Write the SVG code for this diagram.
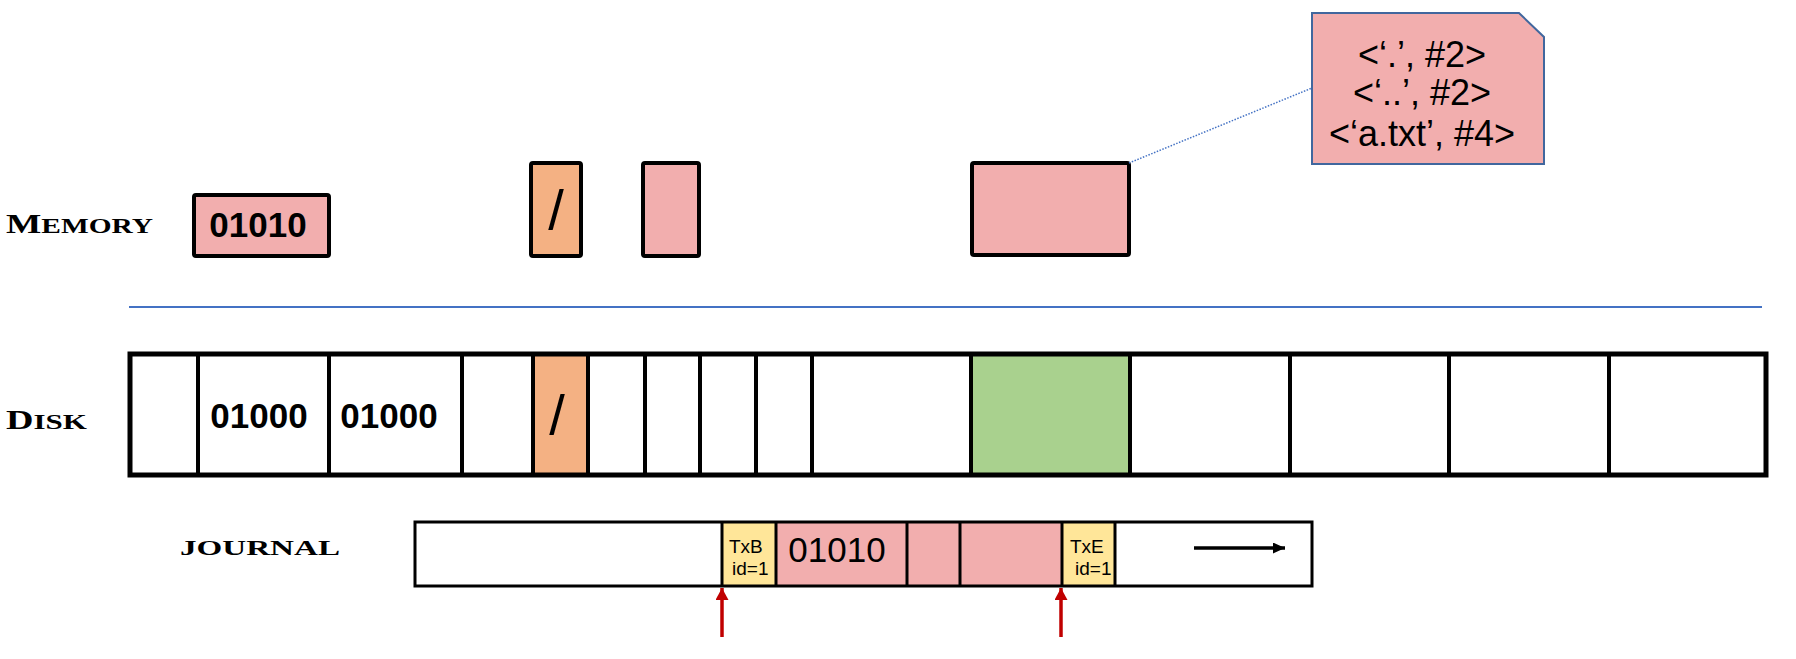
<svg xmlns="http://www.w3.org/2000/svg" width="1796" height="659" viewBox="0 0 1796 659">
<defs>
<style>
.lbl{font-family:"Liberation Serif","DejaVu Serif",serif;fill:#000;font-weight:bold}
.sans{font-family:"Liberation Sans",Arial,sans-serif;fill:#000}
.mem{stroke:#000;stroke-width:4;stroke-linejoin:round}
.cell{stroke:#000;stroke-width:4}
.jr{stroke:#000;stroke-width:3}
.pink{fill:#F2AEAE}
.orange{fill:#F4B183}
.green{fill:#A9D18E}
.yellow{fill:#FFE699}
</style>
<marker id="redhead" markerWidth="14" markerHeight="13" refX="12" refY="6.5" orient="auto" markerUnits="userSpaceOnUse">
<path d="M0,0 L12,6.5 L0,13 Z" fill="#C00000"/>
</marker>
<marker id="blackhead" markerWidth="13" markerHeight="11" refX="12" refY="5.5" orient="auto" markerUnits="userSpaceOnUse">
<path d="M0,0 L12,5.5 L0,11 Z" fill="#000"/>
</marker>
</defs>
<rect width="1796" height="659" fill="#fff"/>

<g id="labels">
<text class="lbl" x="6" y="233" textLength="147" lengthAdjust="spacingAndGlyphs"><tspan font-size="28">M</tspan><tspan font-size="22">EMORY</tspan></text>
<text class="lbl" x="6" y="429" textLength="81" lengthAdjust="spacingAndGlyphs"><tspan font-size="27">D</tspan><tspan font-size="22">ISK</tspan></text>
<text class="lbl" x="180" y="555" font-size="21" textLength="160" lengthAdjust="spacingAndGlyphs">JOURNAL</text>
</g>

<g id="mem-data">
<rect class="mem pink" x="194" y="195" width="135" height="61" rx="2"/>
<text class="sans" x="258" y="237" font-size="35" font-weight="bold" text-anchor="middle">01010</text>
</g>
<g id="mem-root">
<rect class="mem orange" x="531" y="163" width="50" height="93" rx="2"/>
<text class="sans" x="556" y="229" font-size="56" text-anchor="middle">/</text>
</g>
<g id="mem-inode">
<rect class="mem pink" x="643" y="163" width="56" height="93" rx="2"/>
</g>
<g id="mem-dir">
<rect class="mem pink" x="972" y="163" width="157" height="92" rx="2"/>
</g>
<g id="callout">
<path d="M1312,13 L1519,13 L1544,37 L1544,164 L1312,164 Z" fill="#F2AEAE" stroke="#41679E" stroke-width="2"/>
<text class="sans" font-size="36" text-anchor="middle"><tspan x="1422" y="67">&lt;‘.’, #2&gt;</tspan><tspan x="1422" y="105">&lt;‘..’, #2&gt;</tspan><tspan x="1422" y="146">&lt;‘a.txt’, #4&gt;</tspan></text>
</g>

<g id="separator">
<line x1="129" y1="307" x2="1762" y2="307" stroke="#4472C4" stroke-width="2"/>
</g>

<g id="disk">
<rect x="533" y="354" width="55" height="121" class="orange"/>
<rect x="971" y="354" width="159" height="121" class="green"/>
<rect x="130" y="354" width="1636" height="121" fill="none" stroke="#000" stroke-width="5"/>
<g class="cell">
<line x1="198" y1="354" x2="198" y2="475"/>
<line x1="329" y1="354" x2="329" y2="475"/>
<line x1="462" y1="354" x2="462" y2="475"/>
<line x1="533" y1="354" x2="533" y2="475"/>
<line x1="588" y1="354" x2="588" y2="475"/>
<line x1="645" y1="354" x2="645" y2="475"/>
<line x1="700" y1="354" x2="700" y2="475"/>
<line x1="756" y1="354" x2="756" y2="475"/>
<line x1="812" y1="354" x2="812" y2="475"/>
<line x1="971" y1="354" x2="971" y2="475"/>
<line x1="1130" y1="354" x2="1130" y2="475"/>
<line x1="1290" y1="354" x2="1290" y2="475"/>
<line x1="1449" y1="354" x2="1449" y2="475"/>
<line x1="1609" y1="354" x2="1609" y2="475"/>
</g>
<text class="sans" x="259" y="428" font-size="35" font-weight="bold" text-anchor="middle">01000</text>
<text class="sans" x="389" y="428" font-size="35" font-weight="bold" text-anchor="middle">01000</text>
<text class="sans" x="557" y="434" font-size="56" text-anchor="middle">/</text>
</g>

<g id="journal">
<rect x="722" y="522" width="54" height="64" class="yellow"/>
<rect x="776" y="522" width="286" height="64" class="pink"/>
<rect x="1062" y="522" width="53" height="64" class="yellow"/>
<rect x="415" y="522" width="897" height="64" fill="none" class="jr"/>
<g class="jr">
<line x1="722" y1="522" x2="722" y2="586"/>
<line x1="776" y1="522" x2="776" y2="586"/>
<line x1="907" y1="522" x2="907" y2="586"/>
<line x1="960" y1="522" x2="960" y2="586"/>
<line x1="1062" y1="522" x2="1062" y2="586"/>
<line x1="1115" y1="522" x2="1115" y2="586"/>
</g>
<text class="sans" x="729" y="553" font-size="19">TxB</text>
<text class="sans" x="732" y="575" font-size="19">id=1</text>
<text class="sans" x="837" y="562" font-size="35" text-anchor="middle">01010</text>
<text class="sans" x="1070" y="553" font-size="19">TxE</text>
<text class="sans" x="1075" y="575" font-size="19">id=1</text>
</g>

<g id="connectors">
<line x1="1129" y1="163" x2="1312" y2="88" stroke="#4472C4" stroke-width="1.5" stroke-dasharray="1.5,1.5"/>
<line x1="722" y1="637" x2="722" y2="588" stroke="#C00000" stroke-width="3.5" marker-end="url(#redhead)"/>
<line x1="1061" y1="637" x2="1061" y2="588" stroke="#C00000" stroke-width="3.5" marker-end="url(#redhead)"/>
<line x1="1194" y1="548" x2="1285" y2="548" stroke="#000" stroke-width="3.5" marker-end="url(#blackhead)"/>
</g>
</svg>
